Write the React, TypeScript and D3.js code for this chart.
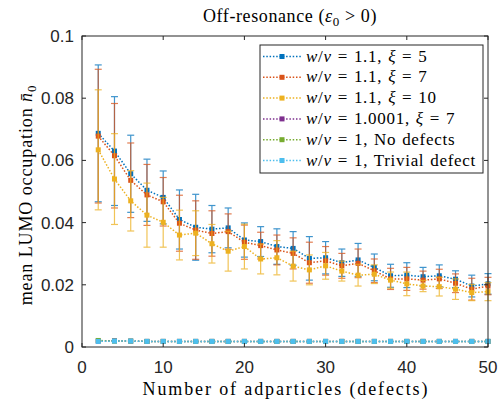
import React from "react"
import * as d3 from "d3"

// number of adparticles
const defects = [2, 4, 6, 8, 10, 12, 14, 16, 18, 20, 22, 24, 26, 28, 30, 32, 34, 36, 38, 40, 42, 44, 46, 48, 50]

// w/v = 1.1, xi = 5
const blueMean = [0.0687, 0.063, 0.0557, 0.0504, 0.0481, 0.041, 0.0385, 0.0379, 0.0383, 0.0344, 0.0339, 0.0323, 0.0317, 0.0285, 0.0287, 0.0271, 0.028, 0.0256, 0.0229, 0.0231, 0.0226, 0.0229, 0.0218, 0.0196, 0.0203]
const blueErr = [0.022, 0.0175, 0.0124, 0.01, 0.0085, 0.0095, 0.0106, 0.0076, 0.0064, 0.0055, 0.0048, 0.0057, 0.0054, 0.007, 0.0052, 0.0044, 0.0053, 0.0043, 0.0037, 0.004, 0.003, 0.0035, 0.0027, 0.0035, 0.0033]

// w/v = 1.1, xi = 7
const orangeMean = [0.0678, 0.0615, 0.0536, 0.0489, 0.0467, 0.0398, 0.0376, 0.0365, 0.0371, 0.0337, 0.0326, 0.0312, 0.0301, 0.0271, 0.0277, 0.0261, 0.0269, 0.0245, 0.0219, 0.0219, 0.0215, 0.0219, 0.0205, 0.0186, 0.0196]
const orangeErr = [0.0215, 0.0168, 0.012, 0.0098, 0.0078, 0.009, 0.0094, 0.0073, 0.0057, 0.0055, 0.0043, 0.0048, 0.005, 0.0066, 0.0046, 0.004, 0.0046, 0.0038, 0.0034, 0.0037, 0.0029, 0.0031, 0.003, 0.0035, 0.0028]

// w/v = 1.1, xi = 10
const yellowMean = [0.0634, 0.054, 0.047, 0.0424, 0.0401, 0.036, 0.0366, 0.0332, 0.0308, 0.0323, 0.0283, 0.0287, 0.026, 0.0248, 0.0261, 0.0244, 0.0231, 0.0234, 0.0215, 0.0203, 0.0196, 0.0194, 0.0186, 0.0175, 0.0178]
const yellowErr = [0.0193, 0.0146, 0.0097, 0.0103, 0.008, 0.008, 0.0072, 0.0062, 0.0064, 0.0072, 0.0048, 0.0055, 0.0048, 0.0048, 0.0043, 0.0032, 0.0035, 0.003, 0.0026, 0.0038, 0.0018, 0.003, 0.0033, 0.0026, 0.0029]

// the flat ones near zero
const purpleMean = [0.0019, 0.002, 0.0019, 0.0018, 0.0018, 0.0018, 0.0018, 0.0018, 0.0018, 0.0018, 0.0018, 0.0018, 0.0018, 0.0018, 0.0018, 0.0018, 0.0018, 0.0018, 0.0018, 0.0018, 0.0018, 0.0018, 0.0018, 0.0018, 0.0018]
const greenMean = [0.0021, 0.0019, 0.0019, 0.0018, 0.0018, 0.0018, 0.0018, 0.0018, 0.0018, 0.0018, 0.0018, 0.0018, 0.0018, 0.0018, 0.0018, 0.0018, 0.0018, 0.0018, 0.0018, 0.0018, 0.0018, 0.0018, 0.0018, 0.0018, 0.0018]
const cyanMean = [0.0018, 0.0019, 0.0019, 0.0018, 0.0018, 0.0018, 0.0018, 0.0018, 0.0018, 0.0018, 0.0018, 0.0018, 0.0018, 0.0018, 0.0018, 0.0018, 0.0018, 0.0018, 0.0018, 0.0018, 0.0018, 0.0018, 0.0018, 0.0018, 0.0018]

const xTicks = [0, 10, 20, 30, 40, 50]
const yTicks = [0, 0.02, 0.04, 0.06, 0.08, 0.1]
const yTickLabels = ["0", "0.02", "0.04", "0.06", "0.08", "0.1"]

const legendRatio = ["1.1", "1.1", "1.1", "1.0001", "1", "1"]
const legendTail = ["ξ = 5", "ξ = 7", "ξ = 10", "ξ = 7", "No defects", "Trivial defect"]

const colors = ["#0072BD", "#D95319", "#EDB120", "#7E2F8E", "#77AC30", "#4DBEEE"]

const series = [
  { mean: blueMean, err: blueErr },
  { mean: orangeMean, err: orangeErr },
  { mean: yellowMean, err: yellowErr },
  { mean: purpleMean, err: null },
  { mean: greenMean, err: null },
  { mean: cyanMean, err: null },
]

const W = 502
const H = 401
const left = 82, right = 488, top = 36, bottom = 347

const sans = "'Liberation Sans', Arial, Helvetica, sans-serif"
const serif = "'Liberation Serif', 'Times New Roman', serif"
const axisColor = "#262626"

export default function App() {
  const x = d3.scaleLinear().domain([0, 50]).range([left, right])
  const y = d3.scaleLinear().domain([0, 0.1]).range([bottom, top])

  const line = d3.line<number>()
    .x((_, i) => x(defects[i]))
    .y(d => y(d))

  const ms = 5 // marker size
  const cap = 3.5

  return (
    <svg width={W} height={H} style={{ position: "absolute", left: 0, top: 0, background: "#fff" }}>
      <rect x={0} y={0} width={W} height={H} fill="#fff" />

      {/* data */}
      {series.map((s, si) => (
        <g key={si}>
          {s.err && defects.map((d, i) => {
            const cx = x(d)
            const y1 = y(s.mean[i] + s.err![i])
            const y2 = y(s.mean[i] - s.err![i])
            return (
              <g key={i} stroke={colors[si]} strokeWidth={1.2} opacity={0.75}>
                <line x1={cx} x2={cx} y1={y1} y2={y2} />
                <line x1={cx - cap} x2={cx + cap} y1={y1} y2={y1} />
                <line x1={cx - cap} x2={cx + cap} y1={y2} y2={y2} />
              </g>
            )
          })}
          <path d={line(s.mean) ?? ""} fill="none" stroke={colors[si]} strokeWidth={1.5} strokeDasharray="1.5 1.8" />
          {defects.map((d, i) => (
            <rect key={i} x={x(d) - ms / 2} y={y(s.mean[i]) - ms / 2} width={ms} height={ms} fill={colors[si]} />
          ))}
        </g>
      ))}

      {/* axes box */}
      <rect x={left} y={top} width={right - left} height={bottom - top} fill="none" stroke={axisColor} strokeWidth={1} />
      {xTicks.map(t => (
        <g key={t}>
          <line x1={x(t)} x2={x(t)} y1={bottom} y2={bottom - 4} stroke={axisColor} />
          <line x1={x(t)} x2={x(t)} y1={top} y2={top + 4} stroke={axisColor} />
          <text x={x(t)} y={373} textAnchor="middle" fontFamily={sans} fontSize={17} fill={axisColor}>{t}</text>
        </g>
      ))}
      {yTicks.map((t, i) => (
        <g key={t}>
          <line x1={left} x2={left + 4} y1={y(t)} y2={y(t)} stroke={axisColor} />
          <line x1={right} x2={right - 4} y1={y(t)} y2={y(t)} stroke={axisColor} />
          <text x={74} y={y(t) + 6} textAnchor="end" fontFamily={sans} fontSize={17} fill={axisColor}>{yTickLabels[i]}</text>
        </g>
      ))}

      {/* title */}
      <text x={290} y={22} textAnchor="middle" fontFamily={serif} fontSize={18} letterSpacing={0.6} fill="#000">
        Off-resonance (<tspan fontStyle="italic">ε</tspan><tspan dy={4} fontSize={13}>0</tspan><tspan dy={-4}> &gt; 0)</tspan>
      </text>

      {/* x label */}
      <text x={285} y={395} textAnchor="middle" fontFamily={serif} fontSize={18} textLength={285} lengthAdjust="spacing" fill="#000">
        Number of adparticles (defects)
      </text>

      {/* y label */}
      <text transform="translate(32,195) rotate(-90)" textAnchor="middle" fontFamily={serif} fontSize={18} letterSpacing={0.9} fill="#000">
        mean LUMO occupation <tspan fontStyle="italic">n̄</tspan><tspan dy={4} fontSize={13}>0</tspan>
      </text>

      {/* legend */}
      <rect x={260} y={45} width={223} height={128} fill="#fff" stroke={axisColor} strokeWidth={1} />
      {legendTail.map((tail, i) => {
        const ly = 56.5 + i * 20.8
        return (
          <g key={i}>
            <line x1={263} x2={301} y1={ly} y2={ly} stroke={colors[i]} strokeWidth={1.5} strokeDasharray="1.5 1.8" />
            <rect x={282 - ms / 2} y={ly - ms / 2} width={ms} height={ms} fill={colors[i]} />
            <text x={306} y={ly + 5} fontFamily={serif} fontSize={17} letterSpacing={0.7} wordSpacing={1} fill="#000">
              <tspan fontStyle="italic">w</tspan>/<tspan fontStyle="italic">v</tspan> = {legendRatio[i]},{" "}
              {tail.startsWith("ξ")
                ? <><tspan fontStyle="italic">ξ</tspan>{tail.slice(1)}</>
                : tail}
            </text>
          </g>
        )
      })}
    </svg>
  )
}
